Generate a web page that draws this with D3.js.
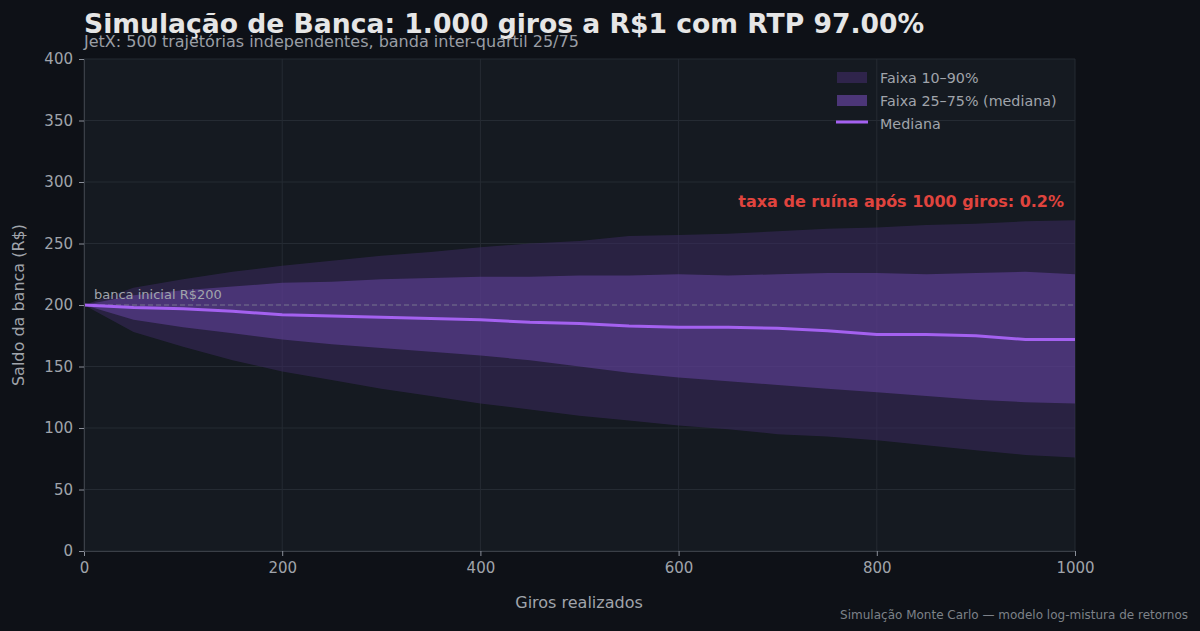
<!DOCTYPE html>
<html><head><meta charset="utf-8">
<script src="https://cdn.jsdelivr.net/npm/d3@7"></script>
<style>body{margin:0;background:#0e1117;}text{font-family:"DejaVu Sans",sans-serif;}</style>
</head><body><svg id="c" width="1200" height="631"></svg>
<script>
const giros = [0,50,100,150,200,250,300,350,400,450,500,550,600,650,700,750,800,850,900,950,1000];
const p90 = [200,214,221,227,232,236,240,243,247,250,252,256,257,258,260,262,263,265,266,268,269];
const p75 = [200,208,212,215,218,219,221,222,223,223,224,224,225,224,225,226,226,225,226,227,225];
const med = [200,198,197,195,192,191,190,189,188,186,185,183,182,182,181,179,176,176,175,172,172];
const p25 = [200,188,182,177,172,168,165,162,159,155,150,145,141,138,135,132,129,126,123,121,120];
const p10 = [200,178,166,155,146,139,132,126,120,115,110,106,102,99,95,93,90,86,82,78,76];
const yTicks = [0,50,100,150,200,250,300,350,400];
const xTicks = [0,200,400,600,800,1000];

const svg = d3.select("#c");
const L=84,R=1075,T=59,B=551;
const x = d3.scaleLinear().domain([0,1000]).range([L,R]);
const y = d3.scaleLinear().domain([0,400]).range([B,T]);
svg.append("rect").attr("x",L).attr("y",T).attr("width",R-L).attr("height",B-T).attr("fill","#151a21");
const g = svg.append("g");
yTicks.forEach(t=>g.append("line").attr("x1",L).attr("x2",R).attr("y1",y(t)).attr("y2",y(t)).attr("stroke","#252b33").attr("stroke-width",1));
xTicks.forEach(t=>g.append("line").attr("y1",T).attr("y2",B).attr("x1",x(t)).attr("x2",x(t)).attr("stroke","#252b33").attr("stroke-width",1));
const idx = d3.range(giros.length);
const area=(a,b)=>d3.area().x(i=>x(giros[i])).y0(i=>y(a[i])).y1(i=>y(b[i]))(idx);
svg.append("path").attr("d",area(p10,p90)).attr("fill","#3b2a5e").attr("fill-opacity",0.55);
svg.append("path").attr("d",area(p25,p75)).attr("fill","#6a46a8").attr("fill-opacity",0.5);
svg.append("line").attr("x1",L).attr("x2",R).attr("y1",y(200)).attr("y2",y(200)).attr("stroke","#8a8f99").attr("stroke-dasharray","5,3").attr("stroke-width",1).attr("opacity",0.7);
svg.append("path").attr("d",d3.line().x(i=>x(giros[i])).y(i=>y(med[i]))(idx)).attr("fill","none").attr("stroke","#a461f0").attr("stroke-width",3);
svg.append("text").attr("x",94).attr("y",y(200)-6).attr("fill","#a0a4ab").attr("font-size",13).text("banca inicial R$200");
const ax=svg.append("g").attr("transform",`translate(0,${B})`).call(d3.axisBottom(x).tickValues(xTicks).tickFormat(d3.format("d")).tickSize(5).tickPadding(6));
const ay=svg.append("g").attr("transform",`translate(${L},0)`).call(d3.axisLeft(y).tickValues(yTicks).tickSize(5).tickPadding(6));
[ax,ay].forEach(a=>{a.selectAll("path").attr("stroke","#3a3f47");a.selectAll("line").attr("stroke","#8a8f99");a.selectAll("text").attr("fill","#a0a4ab").attr("font-size",15);});
svg.append("text").attr("x",579).attr("y",608).attr("text-anchor","middle").attr("fill","#a0a4ab").attr("font-size",16).text("Giros realizados");
svg.append("text").attr("transform",`translate(24,305) rotate(-90)`).attr("text-anchor","middle").attr("fill","#a0a4ab").attr("font-size",16).text("Saldo da banca (R$)");
svg.append("text").attr("x",84).attr("y",33).attr("fill","#e6e6e6").attr("font-size",26.6).attr("font-weight","bold").text("Simulação de Banca: 1.000 giros a R$1 com RTP 97.00%");
svg.append("text").attr("x",84).attr("y",47).attr("fill","#9a9ea5").attr("font-size",16).text("JetX: 500 trajetórias independentes, banda inter-quartil 25/75");
svg.append("text").attr("x",1064).attr("y",207).attr("text-anchor","end").attr("fill","#e0443e").attr("font-size",16).attr("font-weight","bold").text("taxa de ruína após 1000 giros: 0.2%");
svg.append("text").attr("x",1188).attr("y",619).attr("text-anchor","end").attr("fill","#7d8188").attr("font-size",12).text("Simulação Monte Carlo — modelo log-mistura de retornos");
const lg=svg.append("g");
lg.append("rect").attr("x",837).attr("y",72).attr("width",30).attr("height",11).attr("fill","#3b2a5e").attr("fill-opacity",0.7);
lg.append("rect").attr("x",837).attr("y",95).attr("width",30).attr("height",11).attr("fill","#5a3d8f").attr("fill-opacity",0.8);
lg.append("line").attr("x1",836).attr("x2",868).attr("y1",122).attr("y2",122).attr("stroke","#a461f0").attr("stroke-width",3);
[["Faixa 10–90%",83],["Faixa 25–75% (mediana)",106],["Mediana",129]].forEach(d=>lg.append("text").attr("x",880).attr("y",d[1]).attr("fill","#a0a4ab").attr("font-size",14.3).text(d[0]));
</script></body></html>
